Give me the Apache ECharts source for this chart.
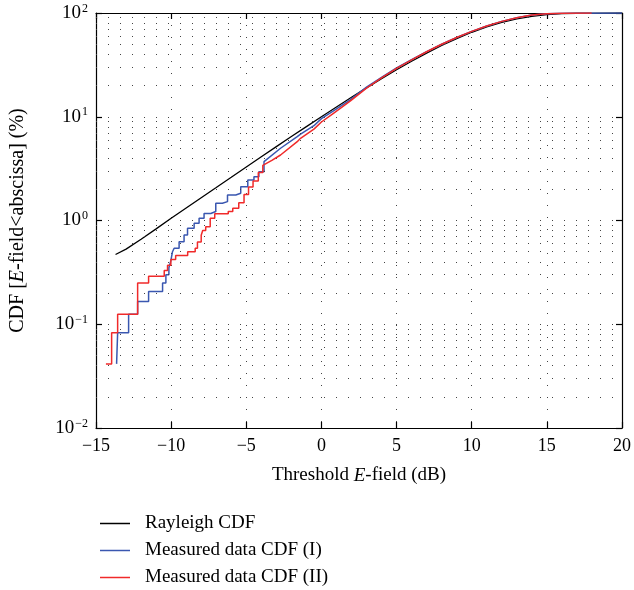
<!DOCTYPE html>
<html>
<head>
<meta charset="utf-8">
<script src="https://cdn.jsdelivr.net/npm/echarts@6/dist/echarts.min.js"></script>
<style>
  html, body { margin: 0; background: #fff; }
  #main { width: 634px; height: 590px; }
</style>
</head>
<body>
<div id="main"></div>
<script>
var serif = 'Liberation Serif';

// Rayleigh CDF
var rayleighX = [-13.7, -13, -12, -11, -10, -9, -8, -7, -6, -5, -4, -3, -2, -1, 0, 1, 2, 3, 4, 5, 6, 7, 8, 9, 10, 11, 12, 13, 14, 15, 16, 17, 18, 20];
var rayleighY = [0.47, 0.53, 0.66, 0.83, 1.05, 1.32, 1.66, 2.08, 2.61, 3.28, 4.11, 5.15, 6.44, 8.03, 10.0, 12.4, 15.4, 19.0, 23.3, 28.4, 34.3, 41.1, 48.6, 56.7, 65.2, 73.5, 81.2, 87.8, 92.9, 96.4, 98.5, 99.5, 99.9, 100];

// Measured data CDF (I): staircase part, then the dense upper part
var blueStepX = [-13.63, -13.56, -12.83, -12.23, -11.50, -10.57, -10.35, -10.15, -10.02, -9.91, -9.80, -9.47, -9.14, -8.91, -8.47, -8.14, -7.81, -7.36, -7.03, -6.59, -6.25, -5.70, -5.37, -4.90, -4.49, -4.16, -3.82];
var blueStepY = [0.0415, 0.083, 0.125, 0.166, 0.207, 0.25, 0.30, 0.35, 0.41, 0.50, 0.54, 0.625, 0.724, 0.84, 0.94, 1.05, 1.17, 1.22, 1.465, 1.52, 1.76, 1.83, 2.12, 2.45, 2.64, 2.95, 3.69];
var blueX = [-2.72, -1.61, -1.39, -0.5, 0, 0.8, 1.93, 3, 4, 5, 6, 7, 8, 9, 10, 11, 12, 13, 14, 15, 16, 20];
var blueY = [4.97, 6.43, 6.8, 8.2, 9.6, 11.4, 14.6, 19.3, 24.0, 29.5, 35.5, 42.5, 50, 58, 66.5, 75, 83, 90, 95.5, 98.5, 99.6, 100];

// Measured data CDF (II)
var redStepX = [-14.34, -13.96, -13.56, -12.23, -11.50, -10.46, -10.24, -10.02, -9.70, -8.90, -8.40, -8.25, -8.00, -7.90, -7.70, -7.40, -7.10, -6.20, -5.90, -5.50, -5.15, -4.85, -4.55, -4.20, -3.90];
var redStepY = [0.0415, 0.083, 0.125, 0.25, 0.29, 0.33, 0.37, 0.42, 0.46, 0.50, 0.54, 0.62, 0.72, 0.80, 0.87, 1.05, 1.16, 1.22, 1.31, 1.48, 1.78, 2.10, 2.40, 2.90, 3.40];
var redX = [-3.3, -2.72, -1.61, -1.39, -0.5, 0, 0.8, 1.93, 3, 4, 5, 6, 7, 8, 9, 10, 11, 12, 13, 14, 15, 16, 17.98];
var redY = [3.8, 4.28, 5.75, 6.2, 7.6, 8.9, 10.8, 14.2, 18.9, 23.7, 29.2, 35.3, 42.3, 50, 58, 66.5, 75, 83, 90, 95.5, 98.5, 99.6, 100];

// axis ticks
var xTicks = [-15, -10, -5, 0, 5, 10, 15, 20];
var yExponents = [-2, -1, 0, 1, 2];
var yMinorLevels = [];
yExponents.slice(0, -1).forEach(function (e) {
  for (var k = 2; k <= 9; k++) yMinorLevels.push(+(k * Math.pow(10, e)).toPrecision(3));
});

function zip(xs, ys) {
  return xs.map(function (x, i) { return [x, ys[i]]; });
}
function stairs(sx, sy, xs, ys) {
  var out = [];
  for (var i = 0; i < sx.length; i++) {
    if (i > 0) out.push([sx[i], sy[i - 1]]);
    out.push([sx[i], sy[i]]);
  }
  return out.concat(zip(xs, ys));
}

var dotted = { type: [1, 11], color: '#444', width: 1 };
var black = { color: '#000', width: 1.2 };

var chart = echarts.init(document.getElementById('main'));
chart.setOption({
  animation: false,
  textStyle: { fontFamily: serif },
  grid: { left: 95, right: 12, top: 13, bottom: 162 },
  legend: {
    data: ['Rayleigh CDF', 'Measured data CDF (I)', 'Measured data CDF (II)'],
    orient: 'vertical',
    left: 100,
    top: 514,
    padding: 0,
    icon: 'rect',
    itemWidth: 30,
    itemHeight: 1.5,
    itemGap: 8,
    textStyle: { fontFamily: serif, fontSize: 19, color: '#000', padding: [0, 0, 0, 10] }
  },
  xAxis: [{
    type: 'value', min: -15, max: 20, interval: 5, position: 'bottom',
    axisLine: { onZero: false, lineStyle: black },
    axisTick: { inside: true, length: 6, lineStyle: black },
    axisLabel: {
      margin: 9, fontSize: 18, color: '#000', fontFamily: serif,
      customValues: xTicks,
      formatter: function (v) { return String(v).replace('-', '\u2212'); }
    },
    splitLine: { show: true, lineStyle: dotted },
    name: '{n|Threshold }{i|E}{n|-field (dB)}',
    nameLocation: 'middle', nameGap: 38,
    nameTextStyle: {
      rich: {
        n: { fontFamily: serif, fontSize: 19, color: '#000' },
        i: { fontFamily: serif, fontSize: 19, color: '#000', fontStyle: 'italic' }
      }
    }
  }, {
    type: 'value', min: -15, max: 20, interval: 5, position: 'top',
    axisLine: { onZero: false, lineStyle: black },
    axisTick: { inside: true, length: 6, lineStyle: black },
    axisLabel: { show: false },
    splitLine: { show: false }
  }],
  yAxis: [{
    type: 'log', logBase: 10, min: 0.01, max: 100, position: 'left',
    axisLine: { onZero: false, lineStyle: black },
    axisTick: { inside: true, length: 6, lineStyle: black },
    axisLabel: {
      margin: 8, color: '#000',
      formatter: function (v) {
        var e = Math.round(Math.log10(v));
        return '{b|10}{s|' + (e < 0 ? '\u2212' + (-e) : e) + '}';
      },
      rich: {
        b: { fontFamily: serif, fontSize: 19, color: '#000' },
        s: { fontFamily: serif, fontSize: 12, color: '#000', verticalAlign: 'bottom', padding: [0, 0, 9, 1] }
      }
    },
    splitLine: { show: true, lineStyle: dotted },
    name: '{n|CDF [}{i|E}{n|-field<abscissa] (%)}',
    nameLocation: 'middle', nameGap: 68,
    nameTextStyle: {
      rich: {
        n: { fontFamily: serif, fontSize: 20, color: '#000' },
        i: { fontFamily: serif, fontSize: 20, color: '#000', fontStyle: 'italic' }
      }
    }
  }, {
    type: 'log', logBase: 10, min: 0.01, max: 100, position: 'right',
    axisLine: { onZero: false, lineStyle: black },
    axisTick: { inside: true, length: 6, lineStyle: black },
    axisLabel: { show: false },
    splitLine: { show: false }
  }],
  series: [{
    name: 'minor grid', type: 'line', data: [], z: 1,
    markLine: {
      silent: true, symbol: ['none', 'none'], label: { show: false },
      lineStyle: dotted,
      data: yMinorLevels.map(function (v) { return { yAxis: v }; })
    }
  }, {
    name: 'Rayleigh CDF', type: 'line', symbol: 'none', z: 3,
    lineStyle: { color: '#000', width: 1.3 }, itemStyle: { color: '#000' },
    data: zip(rayleighX, rayleighY)
  }, {
    name: 'Measured data CDF (I)', type: 'line', symbol: 'none', z: 4,
    lineStyle: { color: '#3a57b0', width: 1.5 }, itemStyle: { color: '#3a57b0' },
    data: stairs(blueStepX, blueStepY, blueX, blueY)
  }, {
    name: 'Measured data CDF (II)', type: 'line', symbol: 'none', z: 5,
    lineStyle: { color: '#f02a2a', width: 1.5 }, itemStyle: { color: '#f02a2a' },
    data: stairs(redStepX, redStepY, redX, redY)
  }]
});
</script>
</body>
</html>
